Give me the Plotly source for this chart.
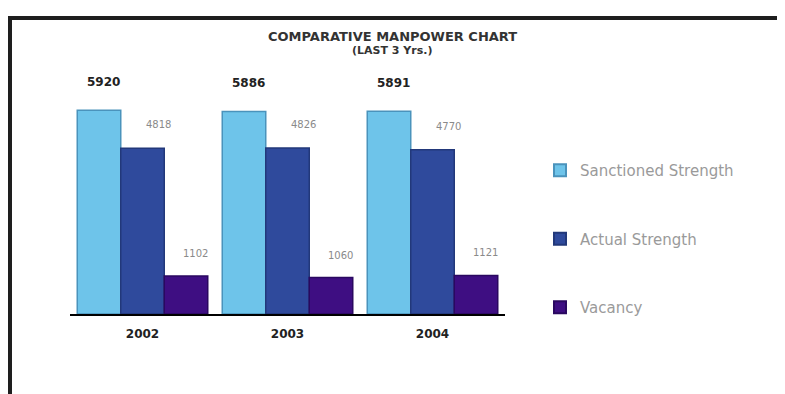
import plotly.graph_objects as go

years = ["2002", "2003", "2004"]
sanctioned = [5920, 5886, 5891]
actual = [4818, 4826, 4770]
vacancy = [1102, 1060, 1121]

names = ["Sanctioned Strength", "Actual Strength", "Vacancy"]
colors = ["#6EC4EA", "#2F4A9C", "#3E0E82"]
edge = ["#4A93BC", "#22387A", "#2A0860"]

# figure geometry (page body adds an 8px offset)
W, H = 777, 386
L, R, T, B = 62, 280, 72, 80
PW, PH = W - L - R, H - T - B

def px(x):
    return (x - L) / PW

def py(y):
    return (H - B - y) / PH

fig = go.Figure()
series = [sanctioned, actual, vacancy]
for i, (nm, vals) in enumerate(zip(names, series)):
    fig.add_trace(go.Bar(
        x=years, y=vals, name=nm,
        marker=dict(color=colors[i], line=dict(color=edge[i], width=1.5)),
        legendgroup=nm,
    ))

# data labels (category index used as annotation x)
bw = PW / 3 * 0.9 / 3
label_specs = [
    (sanctioned, -bw + 4, 19, dict(family="DejaVu Sans", size=12, color="#222222", weight="bold")),
    (actual, 16, 16, dict(family="DejaVu Sans", size=10, color="#8a8a8a")),
    (vacancy, bw + 9, 15, dict(family="DejaVu Sans", size=10, color="#8a8a8a")),
]
annotations = []
for vals, xs, ys, f in label_specs:
    for j, v in enumerate(vals):
        annotations.append(dict(x=j, y=v, xref="x", yref="y", text=str(v), showarrow=False,
                                xshift=xs, yshift=ys, yanchor="bottom",
                                xanchor="center", font=f))

annotations += [
    dict(text="<b>COMPARATIVE MANPOWER CHART</b>", xref="paper", yref="paper",
         x=px(384), y=py(28), xanchor="center", yanchor="middle", showarrow=False,
         font=dict(family="DejaVu Sans", size=13, color="#333333")),
    dict(text="<b>(LAST 3 Yrs.)</b>", xref="paper", yref="paper",
         x=px(384), y=py(42), xanchor="center", yanchor="middle", showarrow=False,
         font=dict(family="DejaVu Sans", size=11, color="#333333")),
]

fig.update_layout(
    width=W, height=H,
    margin=dict(l=L, r=R, t=T, b=B),
    paper_bgcolor="white", plot_bgcolor="white",
    barmode="group", bargap=0.1, bargroupgap=0,
    showlegend=True,
    legend=dict(x=px(532), y=py(146), xanchor="left", yanchor="top",
                font=dict(family="DejaVu Sans", size=15, color="#9a9a9a"),
                tracegroupgap=46, itemsizing="constant"),
    xaxis=dict(type="category", range=[-0.5, 2.5], autorange=False,
               showline=True, linecolor="black", linewidth=2, ticks="",
               ticklabelstandoff=8,
               tickfont=dict(family="DejaVu Sans", size=12, color="#222222", weight="bold")),
    yaxis=dict(range=[0, 6800], autorange=False, visible=False),
    annotations=annotations,
    shapes=[
        dict(type="rect", xref="paper", yref="paper",
             x0=px(2), x1=px(772), y0=py(H + 40), y1=py(10),
             line=dict(color="#1e1e1e", width=4)),
    ],
)

fig.write_html("out.html")
